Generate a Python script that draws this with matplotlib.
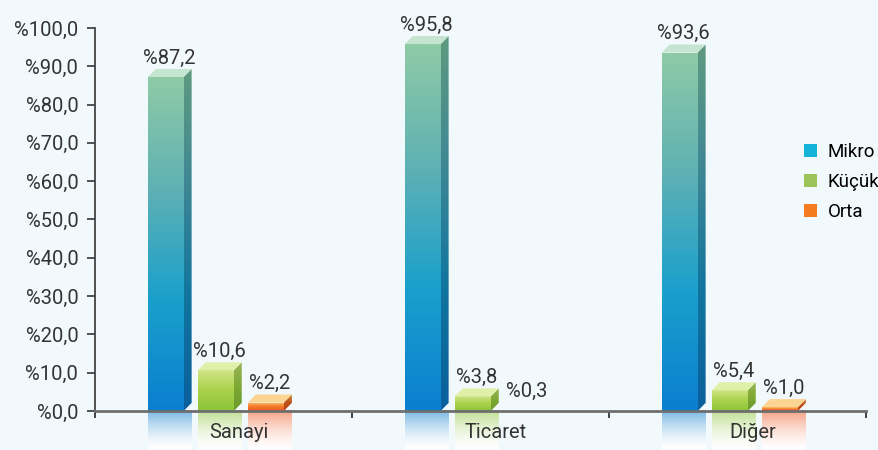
import numpy as np
import matplotlib
matplotlib.use("Agg")
import matplotlib.pyplot as plt
from matplotlib.patches import Polygon, Patch
from matplotlib.colors import to_rgb

categories = ["Sanayi", "Ticaret", "Diğer"]
series = ["Mikro", "Küçük", "Orta"]
mikro = [87.2, 95.8, 93.6]
kucuk = [10.6, 3.8, 5.4]
orta = [2.2, 0.3, 1.0]
yticks = [0, 10, 20, 30, 40, 50, 60, 70, 80, 90, 100]

plt.rcParams["font.family"] = ["Roboto", "DejaVu Sans"]

# colour ramps (top -> bottom) for front face, side face, top face, legend
styles = {
    "Mikro": dict(front=["#8ecaa6", "#5fb1b4", "#1aa0cc", "#0b7fcf"],
                  side=["#5e9a80", "#3f8794", "#11759e", "#0a5f9c"],
                  top="#c6e5d1", legend="#14b4d9"),
    "Küçük": dict(front=["#cfe487", "#a9d24a", "#8cc43a"],
                  side=["#97b45a", "#7ea833", "#6a9a2a"],
                  top="#dff0a8", legend="#9cc35a"),
    "Orta": dict(front=["#fbc06a", "#f37a2c", "#ee5420"],
                 side=["#c98a3c", "#c0501c", "#b04016"],
                 top="#fcd592", legend="#f47b20"),
}

bg = "#f2f9fc"
dx, dy = 0.031, 2.1      # fake 3d depth
bar_w = 0.14
step = 0.195
offset = 0.205


def ramp(colors, n=64):
    cols = np.array([to_rgb(c) for c in colors])
    t = np.linspace(0, 1, n)
    k = np.linspace(0, 1, len(cols))
    return np.stack([np.interp(t, k, cols[:, i]) for i in range(3)], axis=1)


def grad_poly(ax, verts, colors, y_top, z):
    poly = Polygon(verts, closed=True, facecolor="none", edgecolor="none")
    ax.add_patch(poly)
    xs = [v[0] for v in verts]
    img = ramp(colors)[:, None, :]
    im = ax.imshow(img, extent=(min(xs), max(xs), 0, y_top), origin="upper",
                   aspect="auto", zorder=z, interpolation="bilinear")
    im.set_clip_path(poly)


def bar3d(ax, x0, v, st, z):
    x1 = x0 + bar_w
    # front
    grad_poly(ax, [(x0, 0), (x1, 0), (x1, v), (x0, v)], st["front"], v, z)
    # side
    grad_poly(ax, [(x1, 0), (x1 + dx, dy), (x1 + dx, v + dy), (x1, v)],
              st["side"], v + dy, z)
    # top
    ax.add_patch(Polygon([(x0, v), (x1, v), (x1 + dx, v + dy), (x0 + dx, v + dy)],
                         closed=True, facecolor=st["top"], edgecolor="none", zorder=z))
    # reflection below the axis, fading to white
    c = np.array(to_rgb(st["front"][-1]))
    t = np.linspace(0, 1, 64)[:, None]
    a = 0.55 * (1 - t) ** 1.5
    mix = c * a + np.ones(3) * (1 - a)
    ax.imshow(mix[:, None, :], extent=(x0, x1 + dx, -10.2, 0), origin="upper",
              aspect="auto", zorder=0.5, interpolation="bilinear")


fig = plt.figure(figsize=(8.79, 4.5), dpi=100, facecolor=bg)
ax = fig.add_axes([95 / 879, 0.0, 771 / 879, 422 / 450], facecolor=bg)

values = {"Mikro": mikro, "Küçük": kucuk, "Orta": orta}
for ci, cat in enumerate(categories):
    for si, name in enumerate(series):
        v = values[name][ci]
        x0 = ci + offset + si * step
        if v >= 0.5:
            bar3d(ax, x0, v, styles[name], 2)
        lab = "%" + f"{v:.1f}".replace(".", ",")
        ax.text(x0 + bar_w / 2 + dx / 2, v + dy + 0.3, lab, ha="center", va="bottom",
                fontsize=14.5, color="#333333", zorder=5, clip_on=False)

ax.set_xlim(0, 3)
ax.set_ylim(-10.2, 100)

for s in ["top", "right"]:
    ax.spines[s].set_visible(False)
ax.spines["left"].set_bounds(0, 100)
ax.spines["left"].set_color("#444444")
ax.spines["left"].set_linewidth(1.3)
ax.spines["bottom"].set_position(("data", 0))
ax.spines["bottom"].set_color("#6e6e6e")
ax.spines["bottom"].set_linewidth(2)
ax.spines["bottom"].set_zorder(4)

ax.set_yticks(yticks)
ax.set_yticklabels(["%" + f"{t:.1f}".replace(".", ",") for t in yticks],
                   fontsize=14.5, color="#333333")
ax.tick_params(axis="y", direction="out", length=6, width=1.3, color="#444444", pad=6)

ax.set_xticks([0, 1, 2, 3])
ax.set_xticklabels([])
ax.tick_params(axis="x", which="major", direction="out", length=5, width=1.3,
               color="#333333")
ax.set_xticks([i + 0.56 for i in range(len(categories))], minor=True)
ax.set_xticklabels(categories, minor=True, fontsize=14.5, color="#333333")
ax.tick_params(axis="x", which="minor", length=0, pad=9)

handles = [Patch(facecolor=styles[n]["legend"], edgecolor="none") for n in series]
ax.legend(handles, series, loc="center left", bbox_to_anchor=(0.903, 0.635),
          frameon=False, fontsize=13.5, handlelength=0.7, handleheight=0.7,
          handletextpad=0.55, labelspacing=0.65, borderpad=0.2)

fig.savefig("out.png", dpi=100, facecolor=bg)
